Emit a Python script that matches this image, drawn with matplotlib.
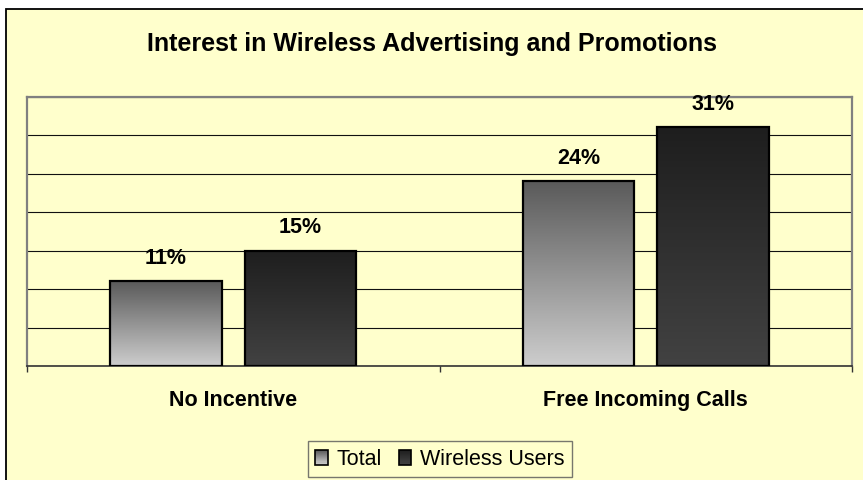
import numpy as np
import matplotlib
matplotlib.use("Agg")
import matplotlib.pyplot as plt
import matplotlib.patches as patches
from matplotlib.colors import LinearSegmentedColormap, to_rgb
from matplotlib.legend_handler import HandlerBase

plt.rcParams["font.family"] = ["Liberation Sans", "DejaVu Sans"]

# ----------------------------------------------------------------------
# Data
# ----------------------------------------------------------------------
categories = ["No Incentive", "Free Incoming Calls"]
series_names = ["Total", "Wireless Users"]
total = [11, 24]
wireless = [15, 31]

TITLE = "Interest in Wireless Advertising and Promotions"

# ----------------------------------------------------------------------
# Style
# ----------------------------------------------------------------------
BG = "#FFFFCC"
FRAME_GRAY = "#808080"
# (top colour, bottom colour) for each series gradient
GRAD = {
    "Total": ("#5a5a5a", "#cdcdcd"),
    "Wireless Users": ("#1e1e1e", "#424242"),
}
W, H = 863, 480


class GradientHandler(HandlerBase):
    """Legend square filled with a vertical gradient."""

    def __init__(self, top, bottom, n=14):
        super().__init__()
        self.top = np.array(to_rgb(top))
        self.bottom = np.array(to_rgb(bottom))
        self.n = n

    def create_artists(self, legend, orig_handle, xdescent, ydescent,
                       width, height, fontsize, trans):
        arts = []
        x0, y0 = -xdescent, -ydescent
        for i in range(self.n):
            f = i / (self.n - 1)
            c = self.bottom * (1 - f) + self.top * f
            arts.append(patches.Rectangle(
                (x0, y0 + height * i / self.n), width, height / self.n + 0.01,
                facecolor=c, edgecolor="none", transform=trans))
        arts.append(patches.Rectangle(
            (x0, y0), width, height, facecolor="none",
            edgecolor="black", lw=1.2, transform=trans))
        return arts


fig = plt.figure(figsize=(W / 100, H / 100), dpi=100)
fig.patch.set_facecolor("white")

# outer chart-area frame (runs off right/bottom edges like the source)
fig.patches.append(patches.Rectangle(
    (6 / W, -0.1), 1.5, (1 - 9 / H) + 0.1, transform=fig.transFigure,
    facecolor=BG, edgecolor="black", lw=1.3, zorder=-10))

ax = fig.add_axes([27 / W, 1 - 366 / H, (852 - 27) / W, (366 - 96.7) / H])
ax.set_facecolor(BG)

x = np.arange(len(categories))
bw = 0.27
off = 0.163
bars_t = ax.bar(x - off, total, bw, facecolor="none", edgecolor="black",
                lw=1.6, zorder=3)
bars_w = ax.bar(x + off, wireless, bw, facecolor="none", edgecolor="black",
                lw=1.6, zorder=3)

# gradient fill inside each bar
for name, bars in zip(series_names, [bars_t, bars_w]):
    cmap = LinearSegmentedColormap.from_list(name, [GRAD[name][1], GRAD[name][0]])
    grad = np.linspace(0, 1, 256).reshape(-1, 1)
    for r in bars:
        ax.imshow(grad, extent=[r.get_x(), r.get_x() + r.get_width(),
                                0, r.get_height()],
                  origin="lower", aspect="auto", cmap=cmap, zorder=2)

# value labels
for bars, vals in [(bars_t, total), (bars_w, wireless)]:
    for r, v in zip(bars, vals):
        ax.annotate(f"{v}%", (r.get_x() + r.get_width() / 2, r.get_height()),
                    xytext=(0, 12.6), textcoords="offset points",
                    ha="center", va="baseline", fontsize=15.5,
                    fontweight="bold")

ax.set_xlim(-0.5, len(categories) - 0.5)
ax.set_ylim(0, 35)
ax.set_yticks(np.arange(0, 36, 5))
ax.yaxis.grid(True, color="#111111", lw=0.8, zorder=0)
ax.set_axisbelow(True)
ax.tick_params(axis="y", length=0, labelleft=False)

ax.set_xticks(x)
ax.set_xticklabels(categories, fontsize=15.5, fontweight="bold")
ax.tick_params(axis="x", which="major", length=0, pad=17)
ax.set_xticks(np.arange(-0.5, len(categories), 1.0), minor=True)
ax.tick_params(axis="x", which="minor", length=4.5, width=1.0,
               color="#333333", direction="out")

for s in ["top", "left", "right"]:
    ax.spines[s].set_color(FRAME_GRAY)
    ax.spines[s].set_linewidth(1.6)
ax.spines["bottom"].set_color("#333333")
ax.spines["bottom"].set_linewidth(1.2)

fig.text(0.5, 1 - 50.7 / H, TITLE, ha="center", va="baseline",
         fontsize=18, fontweight="bold")

handles = [patches.Patch(label=n) for n in series_names]
hmap = {h: GradientHandler(*GRAD[n]) for h, n in zip(handles, series_names)}
leg = fig.legend(handles=handles, labels=series_names, handler_map=hmap,
                 loc="center", bbox_to_anchor=(440 / W, 1 - 459.2 / H),
                 ncol=2, fontsize=15.5, frameon=True, fancybox=False,
                 handlelength=0.6, handleheight=0.7, handletextpad=0.4,
                 columnspacing=0.75, borderpad=0.35, borderaxespad=0)
leg.get_frame().set_facecolor(BG)
leg.get_frame().set_edgecolor("#555555")
leg.get_frame().set_linewidth(1.0)

fig.savefig("out.png", dpi=100, facecolor=fig.get_facecolor())
